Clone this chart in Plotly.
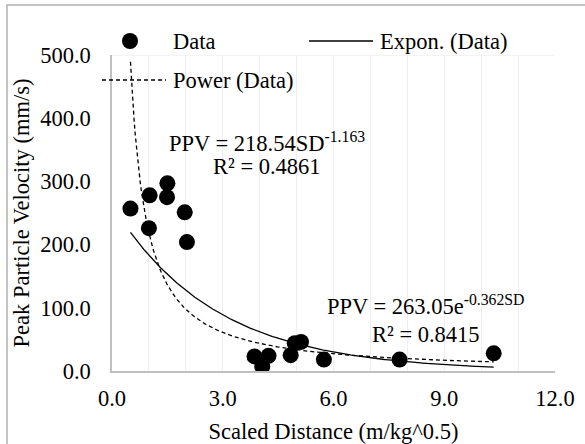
import numpy as np
import plotly.graph_objects as go

# ---- data ----
scaled_distance = [0.50, 1.02, 1.50, 1.49, 1.97, 1.00, 2.03, 3.86, 4.07, 4.24, 4.84, 4.95, 5.12, 5.74, 7.79, 10.34]
ppv = [257, 278, 297, 275, 251, 226, 204, 23, 7, 24, 25, 44, 46, 18, 18, 28]

power_coef, power_exp = 218.54, -1.163
expon_coef, expon_rate = 263.05, -0.362
power_r2 = "0.4861"
expon_r2 = "0.8415"

x_ticks = [0, 3, 6, 9, 12]
y_ticks = [0, 100, 200, 300, 400, 500]

FONT = "Times New Roman"
FS = 22.5

W, H = 585, 444
L, R, T, B = 112, 30, 55, 73
PW, PH = W - L - R, H - T - B


def px(x):
    return (x - L) / PW


def py(y):
    return (H - B - y) / PH


xs = np.linspace(min(scaled_distance), max(scaled_distance), 300)
power_fit = power_coef * xs ** power_exp
expon_fit = expon_coef * np.exp(expon_rate * xs)

fig = go.Figure()
fig.add_trace(go.Scatter(x=xs, y=expon_fit, mode="lines", name="Expon. (Data)",
                         line=dict(color="black", width=1.3), showlegend=False, hoverinfo="skip"))
fig.add_trace(go.Scatter(x=xs, y=power_fit, mode="lines", name="Power (Data)",
                         line=dict(color="black", width=1.3, dash="4px,3px"), showlegend=False,
                         hoverinfo="skip"))
fig.add_trace(go.Scatter(x=scaled_distance, y=ppv, mode="markers", name="Data",
                         marker=dict(color="black", size=16, line=dict(width=0)), showlegend=False))

grid_col = "#efefef"
axis_col = "#bfbfbf"

fig.update_xaxes(range=[0, 12], tickvals=x_ticks, ticktext=[f"{v:.1f}" for v in x_ticks],
                 showgrid=True, gridcolor=grid_col, gridwidth=1,
                 minor=dict(dtick=1, showgrid=True, gridcolor=grid_col, gridwidth=1),
                 showline=True, linecolor=axis_col, linewidth=1.5, zeroline=False,
                 ticks="", ticklabelstandoff=6, automargin=False,
                 tickfont=dict(family=FONT, size=FS, color="#000000"),
                 title=dict(text="Scaled Distance (m/kg^0.5)", font=dict(family=FONT, size=FS, color="#000000"),
                            standoff=13))
fig.update_yaxes(range=[0, 500], tickvals=y_ticks, ticktext=[f"{v:.1f}" for v in y_ticks],
                 showgrid=False, showline=True, linecolor=axis_col, linewidth=1.5, zeroline=False,
                 ticks="", ticklabelstandoff=15, automargin=False,
                 tickfont=dict(family=FONT, size=FS, color="#000000"),
                 title=dict(text="Peak Particle Velocity (mm/s)", font=dict(family=FONT, size=FS, color="#000000"),
                            standoff=4))

shapes = [
    dict(type="line", xref="x", yref="y", x0=0, x1=12, y0=500, y1=500,
         line=dict(color=grid_col, width=1.5), layer="below"),
    dict(type="rect", xref="paper", yref="paper", x0=px(7), y0=py(5), x1=px(620), y1=py(480),
         line=dict(color="#b0b0b0", width=1.5), layer="above"),
    dict(type="circle", xref="paper", yref="paper", xsizemode="pixel", ysizemode="pixel",
         xanchor=px(130), yanchor=py(41), x0=-8, x1=8, y0=-8, y1=8,
         fillcolor="black", line=dict(width=0)),
    dict(type="line", xref="paper", yref="paper", x0=px(309), x1=px(373), y0=py(41), y1=py(41),
         line=dict(color="black", width=1.3)),
    dict(type="line", xref="paper", yref="paper", x0=px(102), x1=px(166), y0=py(80), y1=py(80),
         line=dict(color="black", width=1.3, dash="4px,3px")),
]

ann_font = dict(family=FONT, size=FS, color="#000000")
annotations = [
    dict(text="Data", x=px(171), y=py(41), xanchor="left", yanchor="middle"),
    dict(text="Expon. (Data)", x=px(378), y=py(41), xanchor="left", yanchor="middle"),
    dict(text="Power (Data)", x=px(171), y=py(80), xanchor="left", yanchor="middle"),
    dict(text=f"PPV = {power_coef:.2f}SD<sup>{power_exp}</sup>", x=px(267), y=py(142),
         xanchor="center", yanchor="middle"),
    dict(text=f"R² = {power_r2}", x=px(267), y=py(166), xanchor="center", yanchor="middle"),
    dict(text=f"PPV = {expon_coef:.2f}e<sup>{expon_rate}SD</sup>", x=px(426), y=py(305),
         xanchor="center", yanchor="middle"),
    dict(text=f"R² = {expon_r2}", x=px(426), y=py(334), xanchor="center", yanchor="middle"),
]
for a in annotations:
    a.update(xref="paper", yref="paper", showarrow=False, font=ann_font)

fig.update_layout(width=W, height=H, margin=dict(l=L, r=R, t=T, b=B, autoexpand=False),
                  paper_bgcolor="white", plot_bgcolor="white",
                  shapes=shapes, annotations=annotations, showlegend=False,
                  font=dict(family=FONT, size=FS, color="#000000"))

fig.write_html("out.html")
